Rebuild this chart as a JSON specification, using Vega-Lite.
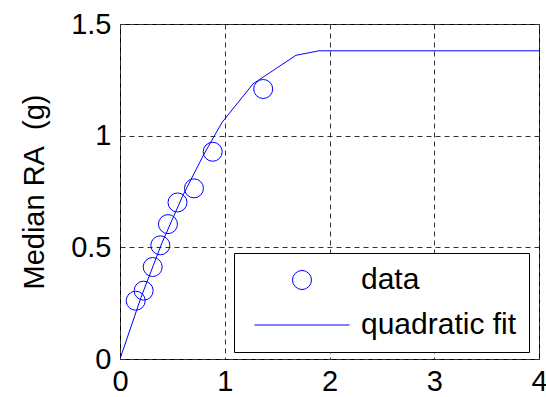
{
  "$schema": "https://vega.github.io/schema/vega-lite/v6.json",
  "width": 419,
  "height": 335,
  "autosize": "none",
  "padding": {"left": 120, "top": 24, "right": 7, "bottom": 38},
  "background": "white",
  "config": {
    "view": {"stroke": "#000", "strokeWidth": 1},
    "font": "Liberation Sans",
    "axis": {
      "labelFont": "Liberation Sans",
      "labelFontSize": 29,
      "labelColor": "#000",
      "titleFont": "Liberation Sans",
      "titleFontSize": 29,
      "titleFontWeight": "normal",
      "titleColor": "#000",
      "domain": false,
      "ticks": false,
      "grid": true,
      "gridColor": "#333",
      "gridDash": [5, 4],
      "gridWidth": 1
    },
    "legend": {
      "title": null,
      "orient": "none",
      "legendX": 114,
      "legendY": 229,
      "padding": 12,
      "strokeColor": "#000",
      "fillColor": "white",
      "labelFont": "Liberation Sans",
      "labelFontSize": 30,
      "labelColor": "#000",
      "labelOffset": 44,
      "symbolOffset": 41,
      "symbolSize": 361,
      "symbolStrokeWidth": 1,
      "symbolStrokeColor": "#0000ff",
      "rowPadding": 15
    }
  },
  "datasets": {
    "points": [
      {"x": 0.150, "y": 0.261, "series": "data"},
      {"x": 0.226, "y": 0.306, "series": "data"},
      {"x": 0.312, "y": 0.412, "series": "data"},
      {"x": 0.385, "y": 0.509, "series": "data"},
      {"x": 0.458, "y": 0.604, "series": "data"},
      {"x": 0.549, "y": 0.701, "series": "data"},
      {"x": 0.706, "y": 0.764, "series": "data"},
      {"x": 0.885, "y": 0.928, "series": "data"},
      {"x": 1.367, "y": 1.209, "series": "data"}
    ],
    "fit": [
      {"x": 0.0, "y": 0.0, "series": "quadratic fit"},
      {"x": 0.2, "y": 0.275, "series": "quadratic fit"},
      {"x": 0.4, "y": 0.519, "series": "quadratic fit"},
      {"x": 0.6, "y": 0.732, "series": "quadratic fit"},
      {"x": 0.8, "y": 0.916, "series": "quadratic fit"},
      {"x": 0.975, "y": 1.06, "series": "quadratic fit"},
      {"x": 1.27, "y": 1.232, "series": "quadratic fit"},
      {"x": 1.68, "y": 1.36, "series": "quadratic fit"},
      {"x": 1.9, "y": 1.38, "series": "quadratic fit"},
      {"x": 4.0, "y": 1.38, "series": "quadratic fit"}
    ]
  },
  "encoding": {
    "x": {
      "field": "x", "type": "quantitative",
      "scale": {"domain": [0, 4], "nice": false, "zero": false},
      "axis": {"title": null, "values": [0, 1, 2, 3, 4], "format": "~g", "labelPadding": 8, "labelFlush": false}
    },
    "y": {
      "field": "y", "type": "quantitative",
      "scale": {"domain": [0, 1.5], "nice": false, "zero": false},
      "axis": {"title": "Median RA\u00a0 (g)", "values": [0, 0.5, 1, 1.5], "format": "~g", "labelPadding": 9, "titlePadding": 21, "labelFlush": false}
    },
    "color": {
      "field": "series", "type": "nominal",
      "scale": {"domain": ["data", "quadratic fit"], "range": ["#0000ff", "#0000ff"]},
      "legend": {"title": null}
    }
  },
  "layer": [
    {
      "data": {"name": "fit"},
      "mark": {"type": "line", "strokeWidth": 1, "clip": true}
    },
    {
      "data": {"name": "points"},
      "mark": {"type": "point", "filled": false, "strokeWidth": 1, "size": 361, "opacity": 1},
      "encoding": {
        "shape": {
          "field": "series", "type": "nominal",
          "scale": {"domain": ["data", "quadratic fit"], "range": ["circle", "M-5,0L5,0"]},
          "legend": {"title": null}
        }
      }
    }
  ]
}
